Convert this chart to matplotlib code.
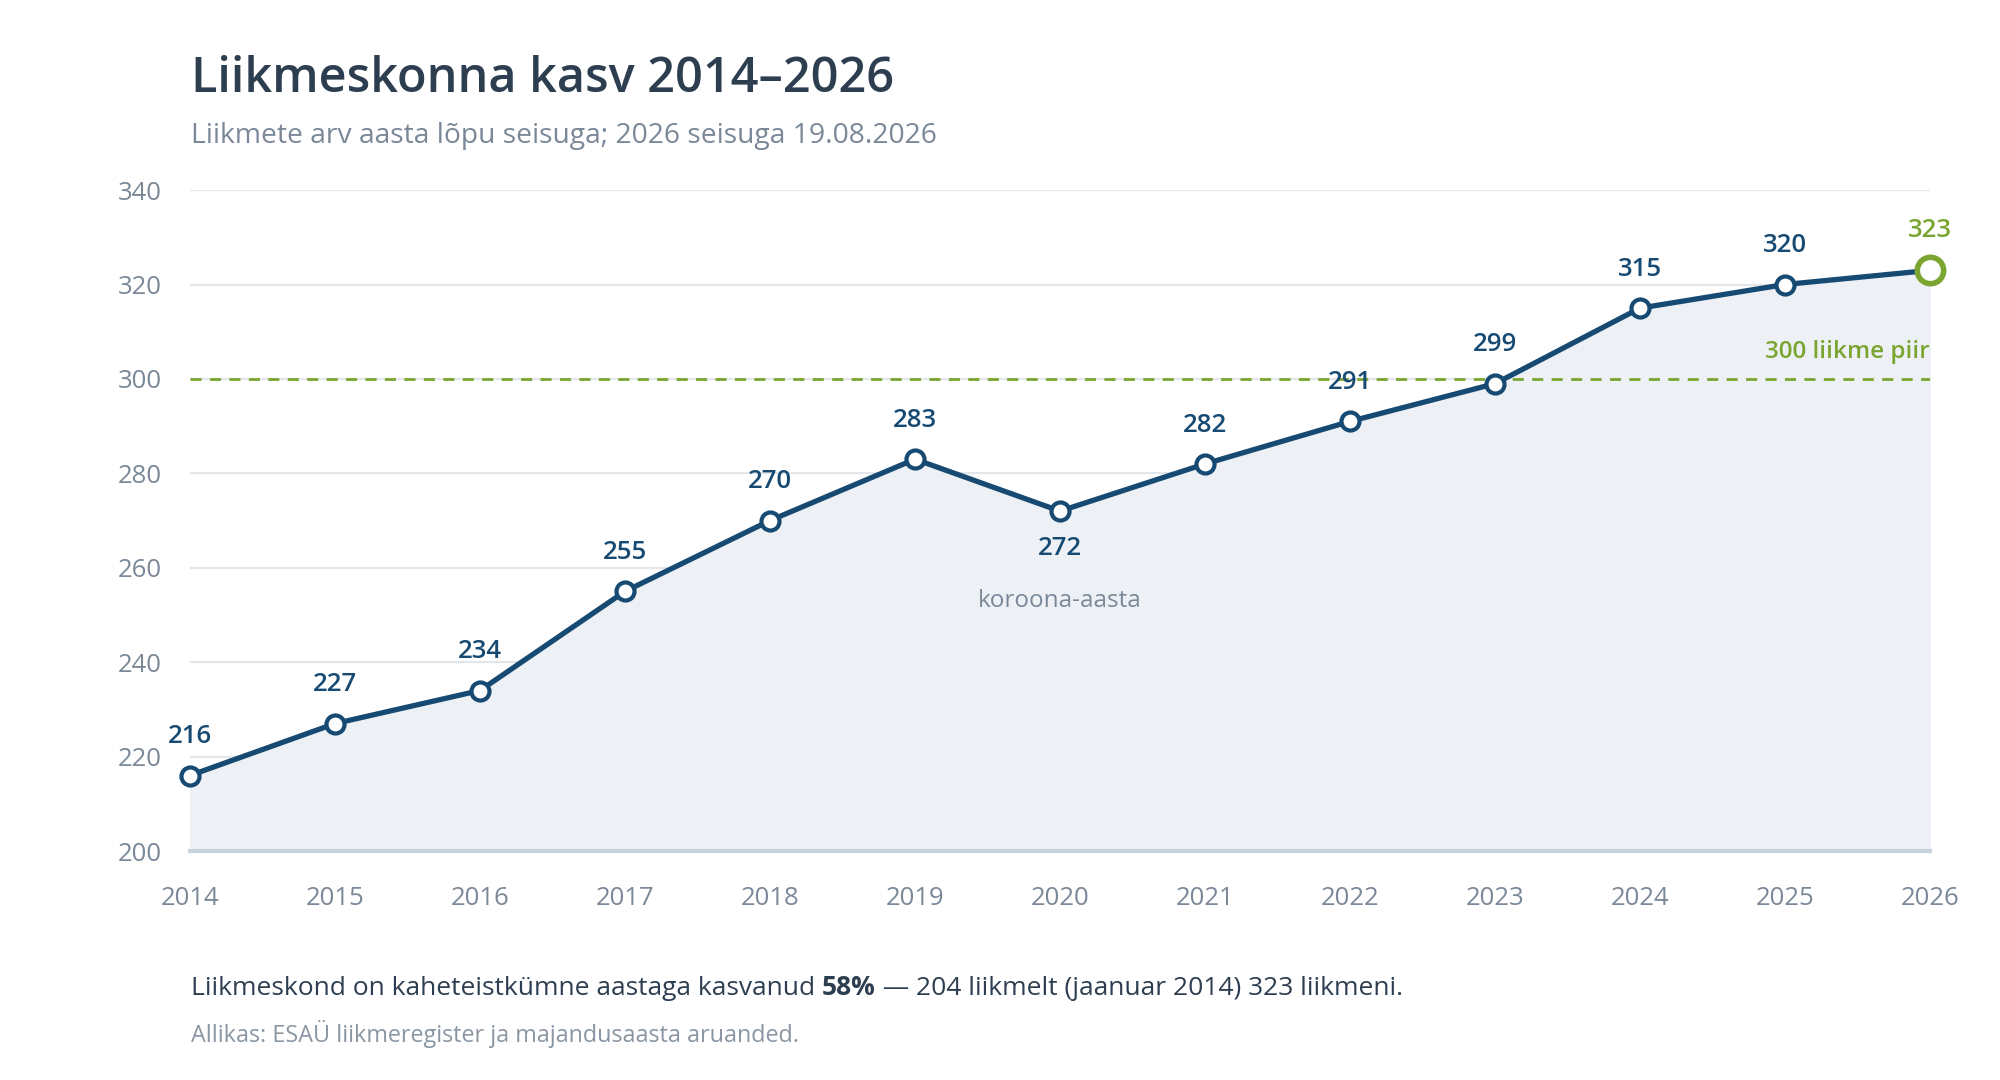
import numpy as np
import matplotlib.pyplot as plt

plt.rcParams['font.family'] = ['Open Sans', 'Noto Sans', 'DejaVu Sans']

# andmed
years = [2014, 2015, 2016, 2017, 2018, 2019, 2020, 2021, 2022, 2023, 2024, 2025, 2026]
members = [216, 227, 234, 255, 270, 283, 272, 282, 291, 299, 315, 320, 323]
below_labels = [2020]
y_ticks = [200, 220, 240, 260, 280, 300, 320, 340]
threshold = 300

NAVY = '#174a72'
GREEN = '#7aa530'
DARK = '#2d3e50'
GRAY = '#7a8898'

fig = plt.figure(figsize=(20, 10.8), dpi=100)
ax = fig.add_axes([0.095, 0.212, 0.87, 0.612])

ax.set_xlim(years[0], years[-1])
ax.set_ylim(200, 340)

# ruudustik
for yt in y_ticks[1:]:
    ax.axhline(yt, color='#e3e7eb', linewidth=1.6, zorder=0)

# täide ja joon
ax.fill_between(years, members, 200, color='#edf1f5', zorder=1)
ax.axhline(200, color='#c7d2dc', linewidth=3, zorder=2, clip_on=False)
ax.axhline(threshold, color=GREEN, linestyle=(0, (4, 3)), linewidth=2, zorder=2)
ax.plot(years, members, color=NAVY, linewidth=3.8, zorder=3, clip_on=False)
ax.plot(years[:-1], members[:-1], 'o', markersize=13, markerfacecolor='white',
        markeredgecolor=NAVY, markeredgewidth=3, zorder=4, clip_on=False)
ax.plot(years[-1:], members[-1:], 'o', markersize=19, markerfacecolor='white',
        markeredgecolor=GREEN, markeredgewidth=4, zorder=5, clip_on=False)

# väärtuste sildid
for yr, val in zip(years, members):
    dy = -27 if yr in below_labels else 28
    col = GREEN if yr == years[-1] else NAVY
    if yr == years[-1]:
        dy = 29
    ax.annotate(str(val), (yr, val), xytext=(0, dy), textcoords='offset points',
                ha='center', va='center', fontsize=18.5, fontweight='semibold',
                color=col, zorder=6)

ax.text(years[-1], 305.7, '300 liikme piir', ha='right', va='center',
        fontsize=17.5, fontweight='semibold', color=GREEN)
ax.text(2020, 252.9, 'koroona-aasta', ha='center', va='center',
        fontsize=17.5, color=GRAY)

ax.set_xticks(years)
ax.set_yticks(y_ticks)
ax.tick_params(axis='both', length=0, labelsize=18.5, labelcolor=GRAY)
ax.tick_params(axis='x', pad=25)
ax.tick_params(axis='y', pad=20)
for s in ax.spines.values():
    s.set_visible(False)

# pealkirjad
fig.text(0.0955, 1 - 92 / 1080, 'Liikmeskonna kasv 2014–2026', fontsize=35,
         fontweight='semibold', color=DARK, va='baseline')
fig.text(0.0955, 1 - 143 / 1080, 'Liikmete arv aasta lõpu seisuga; 2026 seisuga 19.08.2026',
         fontsize=20.3, color=GRAY, va='baseline')

# allmärkus (segatud paksusega)
fig.canvas.draw()
renderer = fig.canvas.get_renderer()
parts = [('Liikmeskond on kaheteistkümne aastaga kasvanud ', 'normal'),
         ('58%', 'bold'),
         (' — 204 liikmelt (jaanuar 2014) 323 liikmeni.', 'normal')]
x = 0.0955
for txt, w in parts:
    t = fig.text(x, 1 - 995 / 1080, txt, fontsize=19, fontweight=w, color=DARK,
                 va='baseline')
    bb = t.get_window_extent(renderer)
    x += bb.width / fig.bbox.width

fig.text(0.0955, 1 - 1042 / 1080, 'Allikas: ESAÜ liikmeregister ja majandusaasta aruanded.',
         fontsize=16.8, color='#8a96a3', va='baseline')

fig.savefig('out.png', dpi=100, facecolor='white')
